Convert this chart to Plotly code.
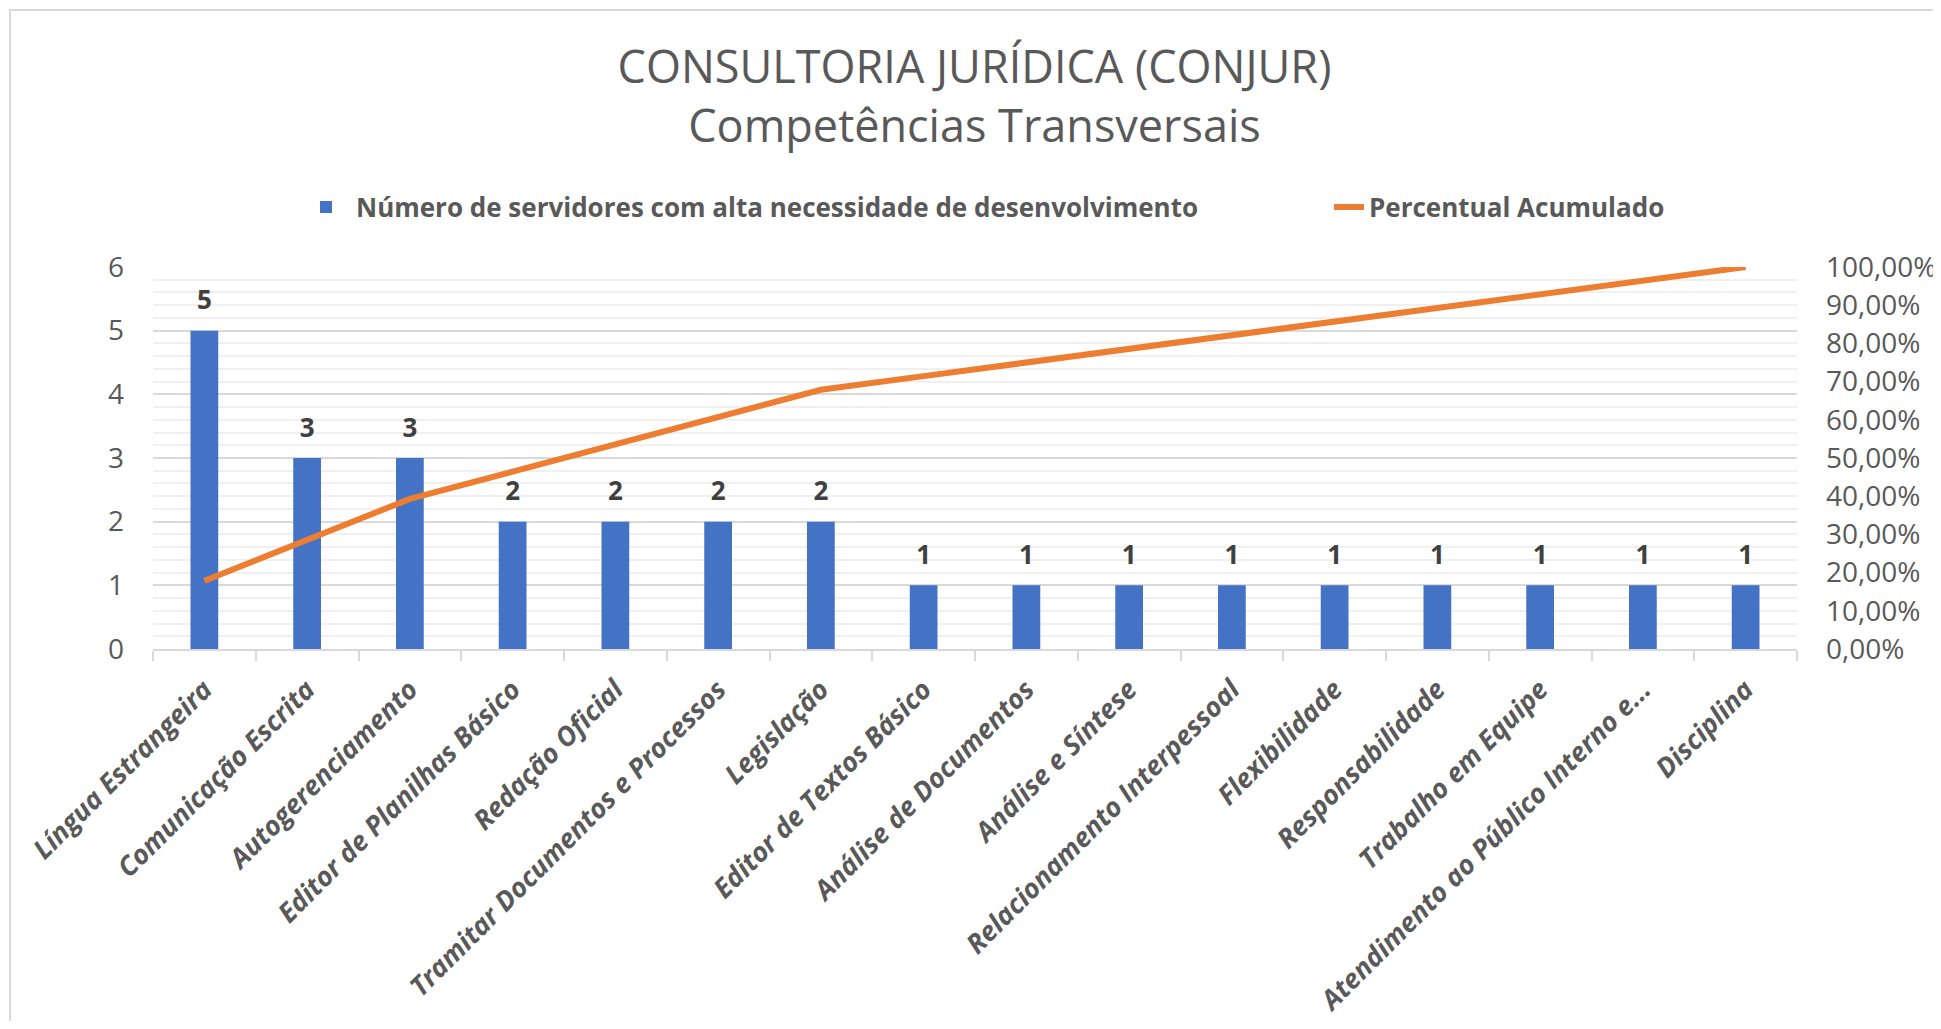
import plotly.graph_objects as go

categorias = [
    "Língua Estrangeira", "Comunicação Escrita", "Autogerenciamento",
    "Editor de Planilhas Básico", "Redação Oficial", "Tramitar Documentos e Processos",
    "Legislação", "Editor de Textos Básico", "Análise de Documentos",
    "Análise e Síntese", "Relacionamento Interpessoal", "Flexibilidade",
    "Responsabilidade", "Trabalho em Equipe", "Atendimento ao Público Interno e...",
    "Disciplina",
]
servidores = [5, 3, 3, 2, 2, 2, 2, 1, 1, 1, 1, 1, 1, 1, 1, 1]
percentual_acumulado = [0.1786, 0.2857, 0.3929, 0.4643, 0.5357, 0.6071, 0.6786, 0.7143,
                        0.7500, 0.7857, 0.8214, 0.8571, 0.8929, 0.9286, 0.9643, 1.0000]

GRAY = "#595959"
FONT = "Open Sans"

# page body has an 8px margin; work in viewport pixels and convert
OFF = 8
W, H = 1933, 1013
L = 153 - OFF
T = 267 - OFF
R = W - (1797 - OFF)
B = H - (649 - OFF)
PW, PH = W - L - R, H - T - B


def px_x(xv):
    return (xv - OFF - L) / PW


def px_y(yv):
    return 1 + (T - (yv - OFF)) / PH


fig = go.Figure()
fig.add_trace(go.Bar(
    x=categorias, y=servidores,
    name="Número de servidores com alta necessidade de desenvolvimento",
    marker=dict(color="#4472C4", line=dict(width=0)),
    legend="legend",
))
fig.add_trace(go.Scatter(
    x=categorias, y=percentual_acumulado, yaxis="y2",
    name="Percentual Acumulado", mode="lines",
    line=dict(color="#ED7D31", width=6),
    legend="legend2",
))
# data labels above the bars
fig.add_trace(go.Scatter(
    x=categorias, y=servidores, mode="markers+text",
    text=[str(v) for v in servidores], textposition="top center",
    marker=dict(size=22, color="rgba(0,0,0,0)"),
    textfont=dict(family=FONT, size=26, color="#404040", weight="bold"),
    showlegend=False, hoverinfo="skip", cliponaxis=False,
))

fig.update_layout(
    width=W, height=H,
    margin=dict(l=L, r=R, t=T, b=B, autoexpand=False),
    paper_bgcolor="white", plot_bgcolor="white",
    separators=",.",
    font=dict(family=FONT, color=GRAY),
    bargap=0.73,
    showlegend=True,
    title=dict(
        text="CONSULTORIA JURÍDICA (CONJUR)<br>Competências Transversais",
        font=dict(family=FONT, size=45, color=GRAY),
        x=0.5, xanchor="center", xref="container",
        y=1 - 75 / H, yanchor="middle", yref="container",
    ),
    legend=dict(
        orientation="h", x=px_x(296), xanchor="left",
        y=px_y(207), yanchor="middle", itemwidth=50,
        font=dict(family=FONT, size=26, color=GRAY, weight="bold"),
        bgcolor="rgba(0,0,0,0)",
    ),
    legend2=dict(
        orientation="h", x=px_x(1329), xanchor="left",
        y=px_y(207), yanchor="middle", itemwidth=30,
        font=dict(family=FONT, size=26, color=GRAY, weight="bold"),
        bgcolor="rgba(0,0,0,0)",
    ),
    xaxis=dict(
        type="category", range=[-0.5, len(categorias) - 0.5], autorange=False,
        showline=True, linecolor="#d9d9d9", linewidth=2,
        ticks="outside", tickson="boundaries", ticklen=10, tickcolor="#d9d9d9", tickwidth=2,
        tickangle=-45, automargin=False, ticklabelstandoff=12,
        tickfont=dict(family=FONT, size=27, color=GRAY, weight="bold", style="italic"),
        showgrid=False,
    ),
    yaxis=dict(
        range=[0, 6], dtick=1, showgrid=True, gridcolor="#d9d9d9", gridwidth=2,
        zeroline=False, showline=False, automargin=False,
        minor=dict(dtick=0.2, showgrid=True, gridcolor="#f0f0f0", gridwidth=2),
        tickfont=dict(family=FONT, size=28, color=GRAY),
        ticklabelstandoff=28,
    ),
    yaxis2=dict(
        range=[0, 1], dtick=0.1, tickformat=".2%", overlaying="y", side="right",
        showgrid=False, zeroline=False, showline=False, automargin=False,
        tickfont=dict(family=FONT, size=28, color=GRAY),
        ticklabelstandoff=28,
    ),
    shapes=[dict(
        type="rect", xref="paper", yref="paper",
        x0=px_x(10), x1=px_x(1960), y0=px_y(1060), y1=px_y(10),
        line=dict(color="#d9d9d9", width=2), fillcolor="rgba(0,0,0,0)", layer="below",
    )],
)

fig.write_html("out.html")
